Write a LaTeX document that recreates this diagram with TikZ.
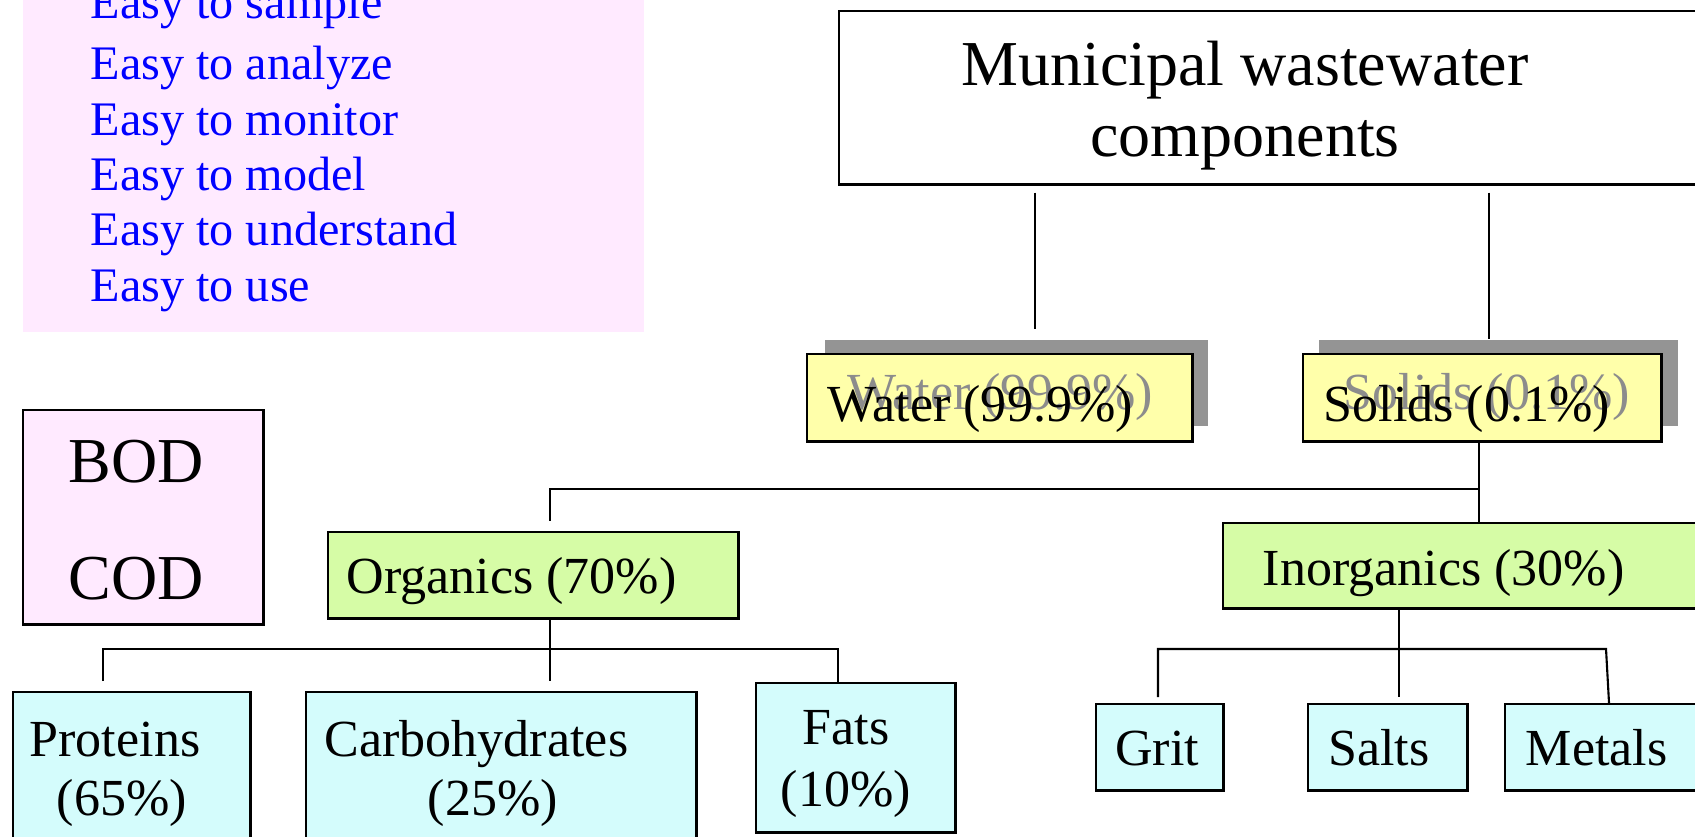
\documentclass[tikz,border=0pt]{standalone}
\usepackage{fontspec}
\setmainfont{Liberation Serif}
\usetikzlibrary{positioning, calc}
\definecolor{wwpink}{HTML}{FFEAFF}
\definecolor{wwyellow}{HTML}{FFFFAA}
\definecolor{wwgreen}{HTML}{D6FCA6}
\definecolor{wwcyan}{HTML}{D4FCFC}
\definecolor{wwshadow}{HTML}{949494}
\definecolor{wwghost}{HTML}{8C8C8C}

\begin{document}
\begin{tikzpicture}[
    x=0.01cm, y=-0.01cm,
    box/.style={draw, line width=0.7pt, rectangle, inner sep=0pt, anchor=north west},
    shadowbox/.style={rectangle, inner sep=0pt, anchor=north west, fill=wwshadow},
    bigtext/.style={inner sep=0pt, font=\fontsize{18.2}{20.2}\selectfont},
    midtext/.style={inner sep=0pt, font=\fontsize{14.8}{16.5}\selectfont},
    listtext/.style={inner sep=0pt, text=blue, align=left, font=\fontsize{13.7}{15.73}\selectfont},
    link/.style={line width=0.6pt}
]
\clip (0,0) rectangle (1695,837);

% --- Kasten oben links (Eigenschaften) ---
\node[box, draw=none, fill=wwpink, minimum width=6.2cm, minimum height=3.41cm] (easybox) at (22,-10) {};
% base = Grundlinie der letzten Zeile
\node[listtext, anchor=base west] (easylist) at (90,301) {Easy to sample\\[0.06cm]Easy to analyze\\Easy to monitor\\Easy to model\\Easy to understand\\Easy to use};

% --- Titel ---
\node[box, minimum width=9cm, minimum height=1.73cm] (title) at (838,10) {};
\node[bigtext, align=center, anchor=base] (titletext) at (1245,157) {Municipal wastewater\\components};

% --- Wasser / Feststoffe (mit Schatten) ---
\node[shadowbox, minimum width=3.83cm, minimum height=0.86cm] (wshadow) at (824,339) {};
\node[shadowbox, minimum width=3.59cm, minimum height=0.86cm] (sshadow) at (1318,339) {};
\node[box, fill=wwyellow, minimum width=3.85cm, minimum height=0.87cm] (water) at (806,353) {};
\node[box, fill=wwyellow, minimum width=3.58cm, minimum height=0.87cm] (solids) at (1302,353) {};
\node[midtext, text=wwghost, anchor=base west] (wghost) at (847,409) {Water (99.9\%)};
\node[midtext, text=wwghost, anchor=base west] (sghost) at (1343,409) {Solids (0.1\%)};
\node[midtext, anchor=base west] (watertext) at (827,421) {Water (99.9\%)};
\node[midtext, anchor=base west] (solidstext) at (1323,421) {Solids (0.1\%)};

% --- BOD / COD ---
\node[box, fill=wwpink, minimum width=2.4cm, minimum height=2.14cm] (oxbox) at (22,409) {};
\node[bigtext, align=center, anchor=base, font=\fontsize{18.2}{33}\selectfont] (oxtext) at (136,599) {BOD\\COD};

% --- Organisch / Anorganisch ---
\node[box, fill=wwgreen, minimum width=4.1cm, minimum height=0.86cm] (organics) at (327,531) {};
\node[midtext, anchor=base west] (organicstext) at (346,593) {Organics (70\%)};
\node[box, fill=wwgreen, minimum width=5cm, minimum height=0.85cm] (inorganics) at (1222,522) {};
\node[midtext, anchor=base west] (inorganicstext) at (1262,585) {Inorganics (30\%)};

% --- Unterste Ebene ---
\node[box, fill=wwcyan, minimum width=2.37cm, minimum height=1.6cm] (proteins) at (12,691) {};
\node[midtext, align=left, anchor=base west] (proteinstext) at (29,815) {Proteins\\\hspace*{0.27cm}(65\%)};
\node[box, fill=wwcyan, minimum width=3.9cm, minimum height=1.6cm] (carbo) at (305,691) {};
\node[midtext, align=left, anchor=base west] (carbotext) at (324,815) {Carbohydrates\\\hspace*{1.03cm}(25\%)};
\node[box, fill=wwcyan, minimum width=1.99cm, minimum height=1.49cm] (fats) at (755,682) {};
\node[midtext, align=center, anchor=base, font=\fontsize{14.8}{17.4}\selectfont] (fatstext) at (846,806) {Fats\\(10\%)};
\node[box, fill=wwcyan, minimum width=1.27cm, minimum height=0.86cm] (grit) at (1095,703) {};
\node[midtext, anchor=base] (grittext) at (1157,765) {Grit};
\node[box, fill=wwcyan, minimum width=1.59cm, minimum height=0.86cm] (salts) at (1307,703) {};
\node[midtext, anchor=base] (saltstext) at (1379,765) {Salts};
\node[box, fill=wwcyan, minimum width=2.5cm, minimum height=0.86cm] (metals) at (1504,703) {};
\node[midtext, anchor=base west] (metalstext) at (1525,765) {Metals};

% --- Verbindungslinien ---
\coordinate (tw) at (1035,0);
\coordinate (ts) at (1489,0);
\coordinate (sj) at (1479,489);
\coordinate (oj) at (550,649);
\coordinate (ol) at (103,649);
\coordinate (or) at (838,649);
\coordinate (ij) at (1399,649);
\coordinate (il) at (1158,649);
\coordinate (ir) at (1606,649);
\coordinate (mr) at (1609,0);

\draw[link] (title.south -| tw) ++(0,7) -- ($(wshadow.north -| tw)+(0,-10)$);
\draw[link] (title.south -| ts) ++(0,7) -- (sshadow.north -| ts);
\draw[link] (solids.south -| sj) -- (inorganics.north -| sj);
\draw[link] (sj) -| ($(organics.north -| oj)+(0,-10)$);
\draw[link] (organics.south -| oj) -- ($(carbo.north -| oj)+(0,-10)$);
\draw[link] ($(proteins.north -| ol)+(0,-10)$) |- (or) -- (fats.north -| or);
\draw[link] (inorganics.south -| ij) -- ($(salts.north -| ij)+(0,-6)$);
\draw[link] ($(grit.north -| il)+(0,-6)$) |- (ir) -- (metals.north -| mr);

\end{tikzpicture}
\end{document}
